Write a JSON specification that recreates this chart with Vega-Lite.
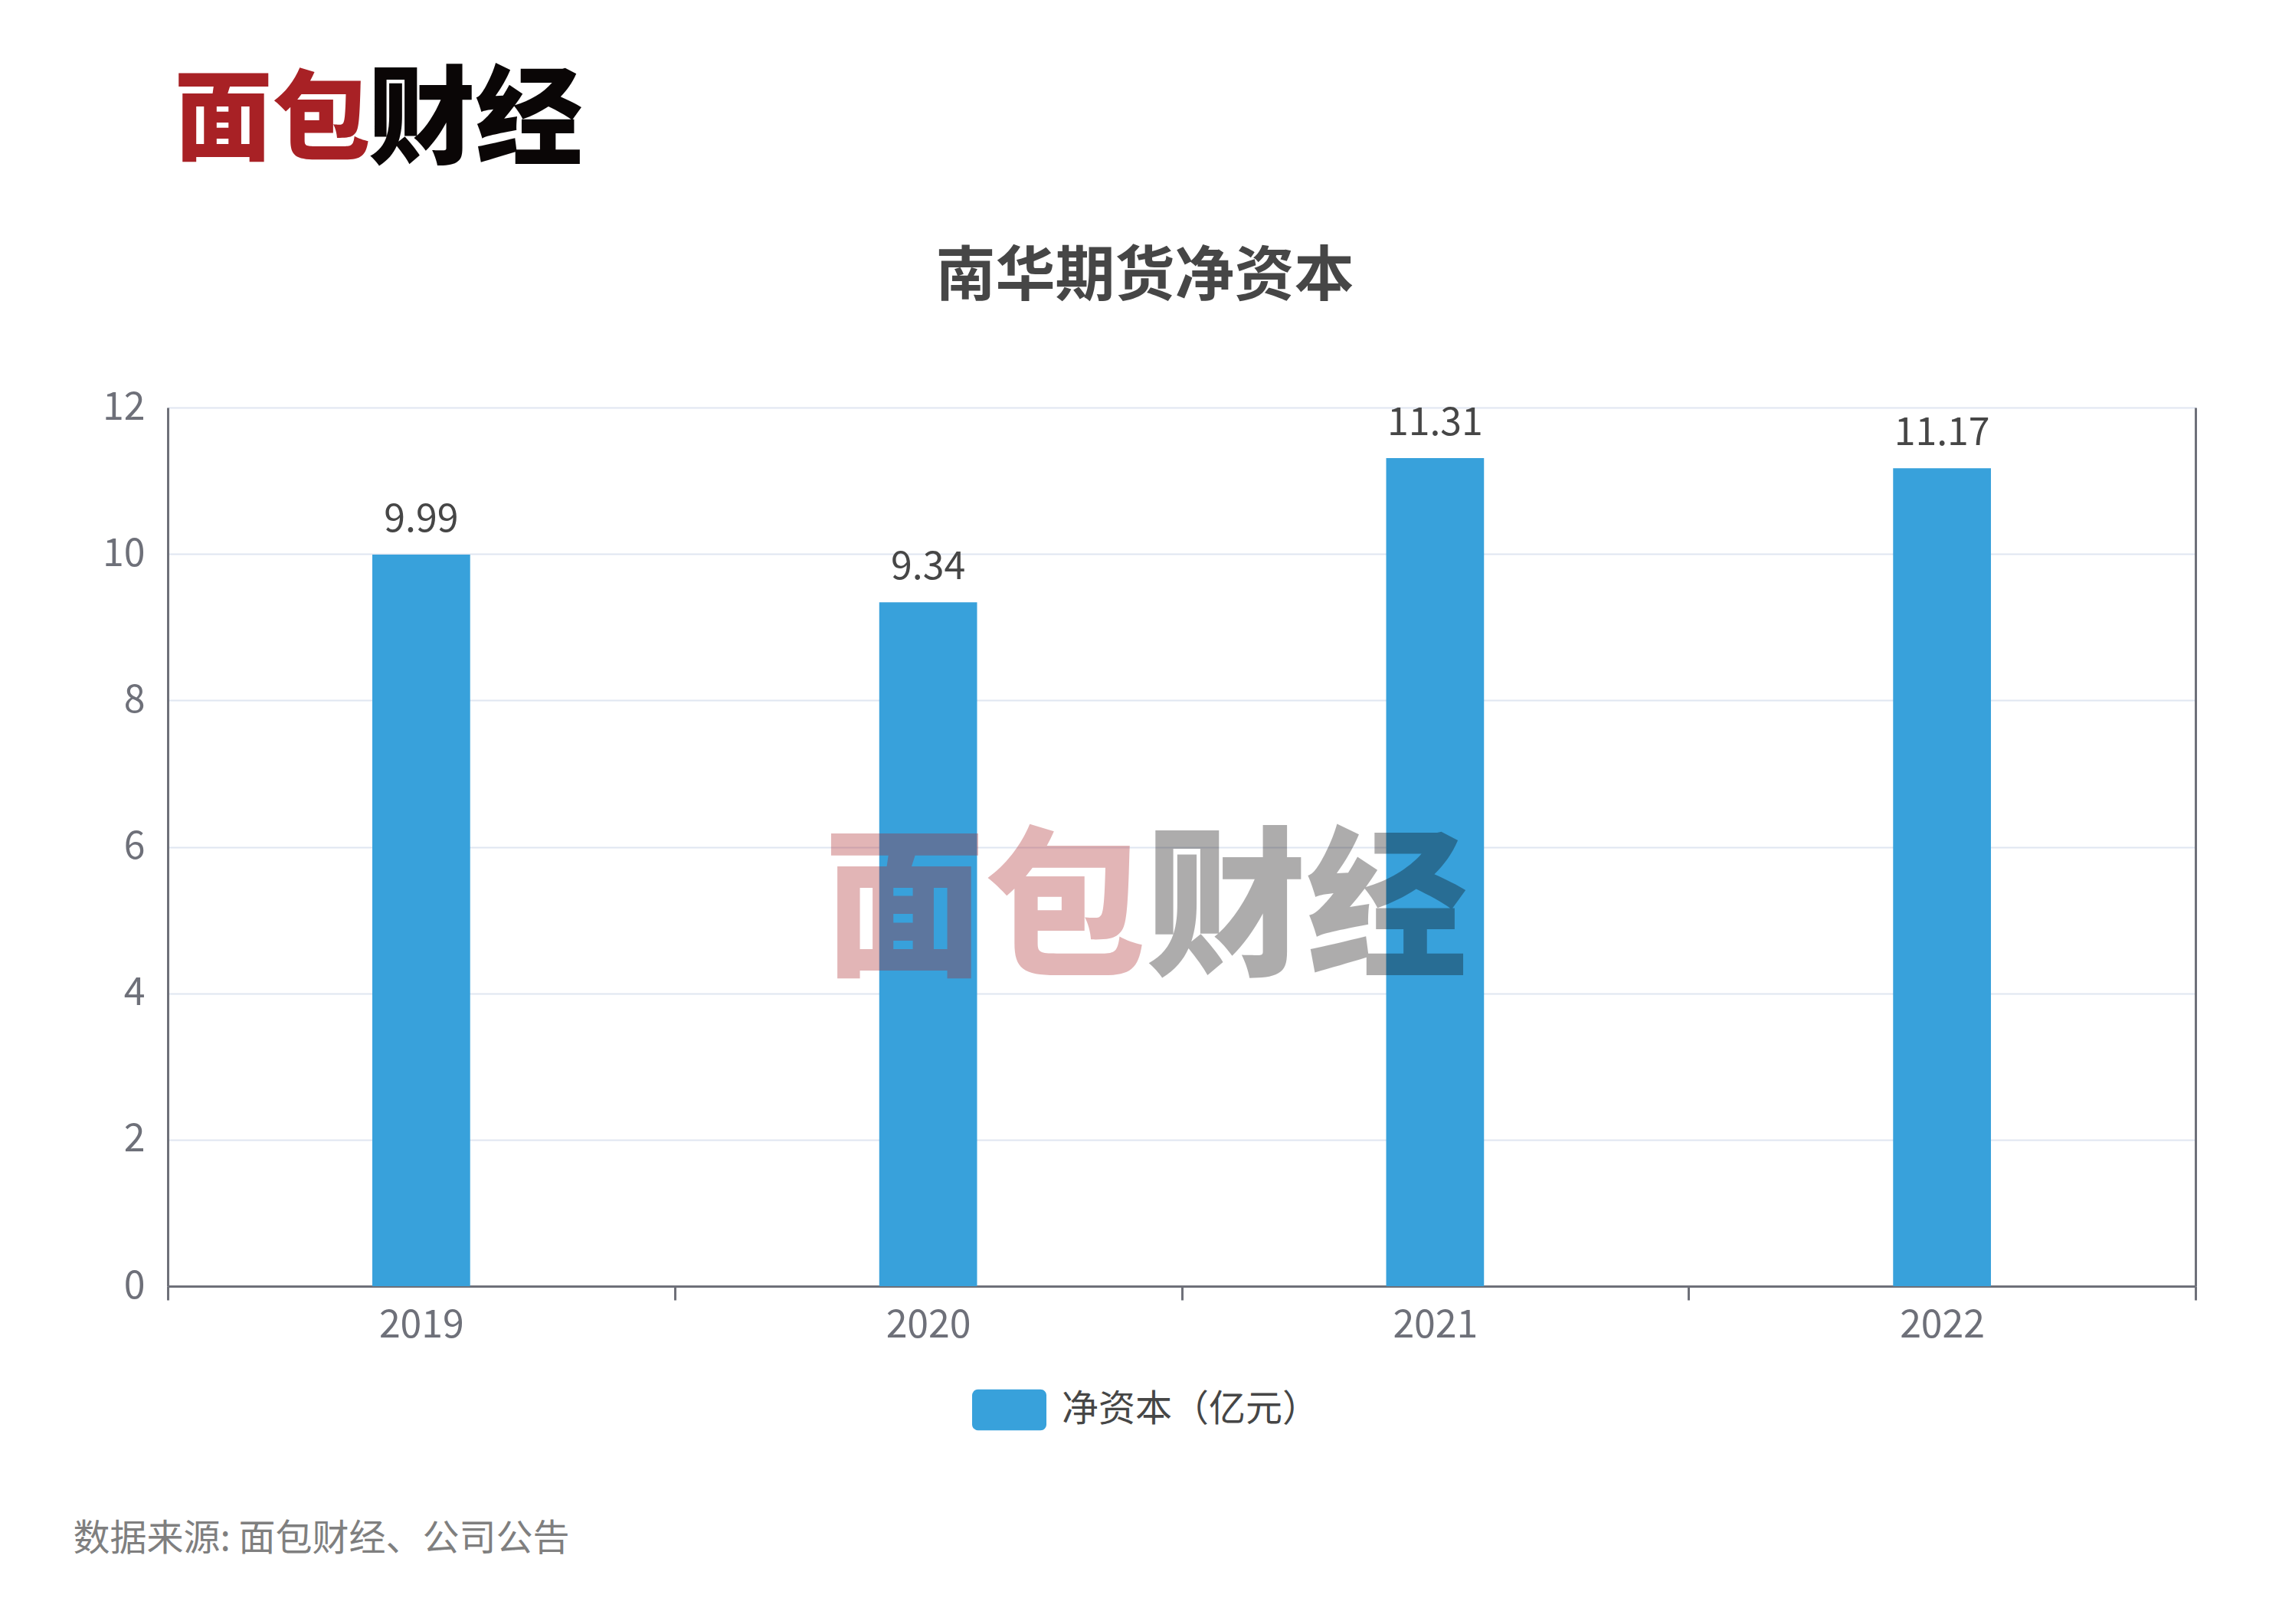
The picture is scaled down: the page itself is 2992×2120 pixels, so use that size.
{
  "$schema": "https://vega.github.io/schema/vega-lite/v6.json",
  "background": "#ffffff",
  "width": 2647,
  "height": 1147,
  "autosize": {"type": "none"},
  "padding": {"left": 219, "top": 532, "right": 126, "bottom": 441},
  "title": {
    "text": "南华期货净资本",
    "frame": "group",
    "anchor": "middle",
    "dx": -48,
    "offset": -312,
    "font": "Noto Sans CJK SC",
    "fontSize": 78,
    "fontWeight": "bold",
    "color": "#464646"
  },
  "config": {"view": {"stroke": null}},
  "layer": [
    {
      "data": {
        "values": [
          {"年份": "2019", "净资本": 9.99},
          {"年份": "2020", "净资本": 9.34},
          {"年份": "2021", "净资本": 11.31},
          {"年份": "2022", "净资本": 11.17}
        ]
      },
      "encoding": {
        "x": {
          "field": "年份",
          "type": "nominal",
          "scale": {"paddingInner": 0, "paddingOuter": 0},
          "axis": {
            "labelAngle": 0,
            "domainColor": "#6e7079",
            "domainWidth": 3,
            "tickBand": "extent",
            "tickSize": 18,
            "tickColor": "#6e7079",
            "tickWidth": 3,
            "labelFont": "Noto Sans CJK SC",
            "labelFontSize": 50,
            "labelColor": "#6e7079",
            "labelPadding": 8,
            "title": "数据来源: 面包财经、公司公告",
            "titleX": -124,
            "titleY": 330,
            "titleAlign": "left",
            "titleBaseline": "middle",
            "titleFont": "Noto Sans CJK SC",
            "titleFontSize": 48,
            "titleFontWeight": "normal",
            "titleColor": "#7f7f7f"
          }
        }
      },
      "layer": [
        {
          "mark": {"type": "bar", "width": {"band": 0.193}},
          "encoding": {
            "y": {
              "field": "净资本",
              "type": "quantitative",
              "scale": {"domain": [0, 12]},
              "axis": {
                "values": [0, 2, 4, 6, 8, 10, 12],
                "grid": true,
                "gridColor": "#e0e6f1",
                "gridWidth": 2,
                "domainColor": "#6e7079",
                "domainWidth": 3,
                "ticks": false,
                "labelFont": "Noto Sans CJK SC",
                "labelFontSize": 50,
                "labelColor": "#6e7079",
                "labelPadding": 30,
                "title": "面包",
                "titleAngle": 0,
                "titleAlign": "left",
                "titleBaseline": "middle",
                "titleX": 8,
                "titleY": -372,
                "titleFont": "Noto Sans CJK SC",
                "titleFontSize": 128,
                "titleFontWeight": 900,
                "titleColor": "#a82125"
              }
            },
            "color": {
              "datum": "净资本（亿元）",
              "type": "nominal",
              "scale": {"range": ["#38a1db"]},
              "legend": {
                "orient": "none",
                "legendX": 1050,
                "legendY": 1260,
                "direction": "horizontal",
                "title": null,
                "symbolType": "M-0.84,-0.55H0.84A0.16,0.16 0 0 1 1,-0.39V0.39A0.16,0.16 0 0 1 0.84,0.55H-0.84A0.16,0.16 0 0 1 -1,0.39V-0.39A0.16,0.16 0 0 1 -0.84,-0.55Z",
                "symbolSize": 9409,
                "symbolStrokeWidth": 0,
                "symbolOpacity": 1,
                "labelFont": "Noto Sans CJK SC",
                "labelFontSize": 48,
                "labelColor": "#464646",
                "labelOffset": 20,
                "labelLimit": 0
              }
            }
          }
        },
        {
          "mark": {
            "type": "text",
            "baseline": "bottom",
            "dy": -20,
            "font": "Noto Sans CJK SC",
            "fontSize": 50,
            "color": "#464646"
          },
          "encoding": {
            "y": {
              "field": "净资本",
              "type": "quantitative",
              "scale": {"domain": [0, 12]},
              "axis": {
                "orient": "right",
                "values": [0, 2, 4, 6, 8, 10, 12],
                "grid": false,
                "labels": false,
                "ticks": false,
                "domainColor": "#6e7079",
                "domainWidth": 3,
                "title": "财经",
                "titleAngle": 0,
                "titleAlign": "left",
                "titleBaseline": "middle",
                "titleX": -2386,
                "titleY": -372,
                "titleFont": "Noto Sans CJK SC",
                "titleFontSize": 140,
                "titleFontWeight": 900,
                "titleColor": "#0a0606"
              }
            },
            "text": {"field": "净资本", "type": "quantitative", "format": ".2f"}
          }
        }
      ],
      "resolve": {"axis": {"y": "independent"}}
    },
    {
      "data": {"values": [{"水印": "面包"}]},
      "mark": {
        "type": "text",
        "align": "right",
        "baseline": "middle",
        "dx": -47,
        "dy": 88,
        "font": "Noto Sans CJK SC",
        "fontSize": 210,
        "fontWeight": 900,
        "color": "#a82125",
        "opacity": 0.33
      },
      "encoding": {"text": {"field": "水印", "type": "nominal"}}
    },
    {
      "data": {"values": [{"水印": "财经"}]},
      "mark": {
        "type": "text",
        "align": "left",
        "baseline": "middle",
        "dx": -47,
        "dy": 88,
        "font": "Noto Sans CJK SC",
        "fontSize": 210,
        "fontWeight": 900,
        "color": "#0a0606",
        "opacity": 0.33
      },
      "encoding": {"text": {"field": "水印", "type": "nominal"}}
    }
  ]
}
